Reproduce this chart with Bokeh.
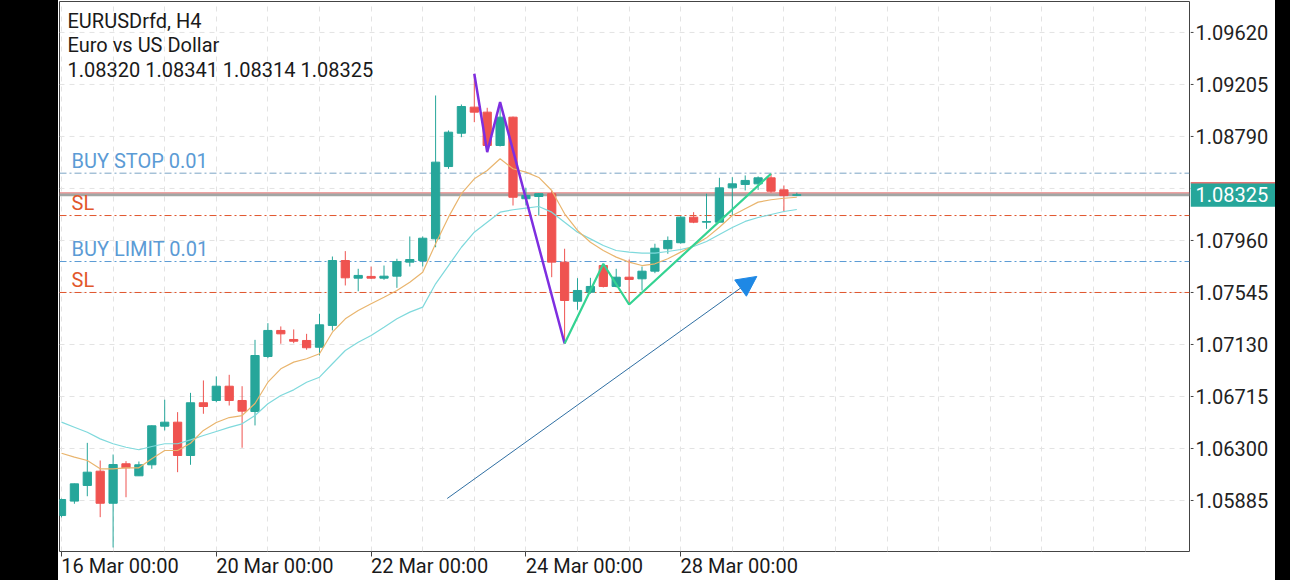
from bokeh.plotting import figure
from bokeh.models import (FixedTicker, Span, Label, Arrow, NormalHead, ColumnDataSource,
                          Range1d, Div)
from bokeh.layouts import row
from bokeh.embed import file_html
from bokeh.resources import INLINE
from bokeh.core.properties import value

# ---------------- data ----------------
symbol_text = "EURUSDrfd, H4"
description_text = "Euro vs US Dollar"
ohlc_text = "1.08320 1.08341 1.08314 1.08325"

opens = [1.05765, 1.05880, 1.06005, 1.06119, 1.05863, 1.06178, 1.06082, 1.06170, 1.06478, 1.06510,
         1.06244, 1.06665, 1.06683, 1.06797, 1.06683, 1.06595, 1.07034, 1.07242, 1.07170, 1.07162,
         1.07108, 1.07282, 1.07800, 1.07659, 1.07673, 1.07659, 1.07675, 1.07787, 1.07800, 1.07973,
         1.08550, 1.08816, 1.09024, 1.08984, 1.08718, 1.08944, 1.08293, 1.08311, 1.08333, 1.07787,
         1.07475, 1.07547, 1.07760, 1.07593, 1.07667, 1.07654, 1.07715, 1.07894, 1.07942, 1.08146,
         1.08106, 1.08106, 1.08380, 1.08407, 1.08412, 1.08460, 1.08364, 1.08320]
highs = [1.05900, 1.06020, 1.06345, 1.06204, 1.06252, 1.06199, 1.06196, 1.06484, 1.06689, 1.06590,
         1.06744, 1.06843, 1.06875, 1.06888, 1.06797, 1.07167, 1.07300, 1.07274, 1.07250, 1.07215,
         1.07375, 1.07832, 1.07875, 1.07734, 1.07752, 1.07760, 1.07814, 1.07992, 1.07992, 1.09117,
         1.08838, 1.09045, 1.09290, 1.09019, 1.09064, 1.08949, 1.08380, 1.08337, 1.08359, 1.07894,
         1.07659, 1.07662, 1.07774, 1.07734, 1.07808, 1.07752, 1.07934, 1.07992, 1.08154, 1.08186,
         1.08333, 1.08460, 1.08465, 1.08479, 1.08471, 1.08492, 1.08399, 1.08341]
lows = [1.05750, 1.05859, 1.05919, 1.05752, 1.05510, 1.05911, 1.06082, 1.06138, 1.06444, 1.06111,
        1.06170, 1.06577, 1.06669, 1.06643, 1.06306, 1.06484, 1.07021, 1.07136, 1.07140, 1.07088,
        1.07042, 1.07242, 1.07601, 1.07555, 1.07654, 1.07646, 1.07582, 1.07752, 1.07752, 1.07906,
        1.08532, 1.08784, 1.08904, 1.08665, 1.08710, 1.08239, 1.08239, 1.08159, 1.07667, 1.07138,
        1.07407, 1.07535, 1.07585, 1.07585, 1.07449, 1.07561, 1.07699, 1.07854, 1.07934, 1.08098,
        1.08053, 1.08103, 1.08159, 1.08359, 1.08364, 1.08341, 1.08186, 1.08314]
closes = [1.05893, 1.06018, 1.06111, 1.05863, 1.06172, 1.06146, 1.06170, 1.06481, 1.06510, 1.06244,
          1.06665, 1.06635, 1.06797, 1.06683, 1.06598, 1.07042, 1.07242, 1.07215, 1.07156, 1.07104,
          1.07287, 1.07800, 1.07662, 1.07681, 1.07659, 1.07675, 1.07792, 1.07808, 1.07978, 1.08585,
          1.08824, 1.09029, 1.08984, 1.08718, 1.08944, 1.08305, 1.08319, 1.08333, 1.07787, 1.07481,
          1.07561, 1.07593, 1.07593, 1.07667, 1.07649, 1.07715, 1.07898, 1.07960, 1.08146, 1.08106,
          1.08111, 1.08380, 1.08412, 1.08439, 1.08460, 1.08353, 1.08318, 1.08325]

ma_fast = [1.06262, 1.06231, 1.06204, 1.06138, 1.06138, 1.06146, 1.06146, 1.06218, 1.06284, 1.06284,
           1.06342, 1.06444, 1.06507, 1.06547, 1.06563, 1.06659, 1.06829, 1.06936, 1.06989, 1.07016,
           1.07056, 1.07228, 1.07335, 1.07401, 1.07455, 1.07507, 1.07561, 1.07627, 1.07707, 1.07934,
           1.08146, 1.08333, 1.08452, 1.08518, 1.08612, 1.08532, 1.08505, 1.08463, 1.08359, 1.08173,
           1.08040, 1.07946, 1.07880, 1.07827, 1.07787, 1.07760, 1.07774, 1.07814, 1.07867, 1.07920,
           1.07981, 1.08066, 1.08159, 1.08213, 1.08266, 1.08285, 1.08297, 1.08305]
ma_slow = [1.06510, 1.06470, 1.06430, 1.06377, 1.06338, 1.06310, 1.06290, 1.06316, 1.06338, 1.06338,
           1.06369, 1.06404, 1.06436, 1.06468, 1.06497, 1.06563, 1.06657, 1.06723, 1.06768, 1.06829,
           1.06869, 1.06976, 1.07082, 1.07148, 1.07202, 1.07268, 1.07335, 1.07388, 1.07428, 1.07614,
           1.07760, 1.07906, 1.08026, 1.08106, 1.08186, 1.08205, 1.08218, 1.08231, 1.08186, 1.08106,
           1.08026, 1.07973, 1.07920, 1.07880, 1.07867, 1.07859, 1.07859, 1.07872, 1.07888, 1.07912,
           1.07952, 1.08008, 1.08064, 1.08112, 1.08143, 1.08167, 1.08191, 1.08207]

date_ticks = [0, 12, 24, 36, 48]
date_labels = ["16 Mar 00:00", "20 Mar 00:00", "22 Mar 00:00", "24 Mar 00:00", "28 Mar 00:00"]
price_ticks = [1.05885, 1.06300, 1.06715, 1.07130, 1.07545, 1.07960, 1.08375, 1.08790, 1.09205, 1.09620]
hidden_price_tick = 1.08375

order_labels = ["BUY STOP 0.01", "SL", "BUY LIMIT 0.01", "SL"]
order_prices = [1.08497, 1.08159, 1.07792, 1.07545]
bid_price = 1.08325
ask_price = 1.08340

zigzag_purple_idx = [32, 33, 34, 39]
zigzag_purple_kind = ["high", "low", "high", "low"]
zigzag_green_idx = [39, 42, 44, 55]
zigzag_green_kind = ["low", "high", "low", "high"]

arrow_start = (29.9, 1.05901)
arrow_end = (53.9, 1.07673)

# ---------------- style / layout ----------------
X_START, X_END = -0.155, 87.44
Y_BOTTOM, Y_TOP = 1.05478, 1.09867
FRAME_W, FRAME_H = 1130, 550
PX_X = FRAME_W / (X_END - X_START)          # pixels per candle
PX_Y = (Y_TOP - Y_BOTTOM) / FRAME_H         # price per pixel
UP, DOWN = "#26a69a", "#ef5350"
FONT = "Roboto"
BLUE_TXT, RED_TXT = "#5b9bd5", "#e2572b"
order_text_colors = [BLUE_TXT, RED_TXT, BLUE_TXT, RED_TXT]
order_line_colors = ["#7aa3c4", "#e0552d", "#5b9bd5", "#e0552d"]
DATE_LABEL_HALF_PX = 58.5
RIGHT_W = 85

n = len(opens)
idx = list(range(n))
colors = [UP if c >= o else DOWN for o, c in zip(opens, closes)]
src = ColumnDataSource(dict(
    x=idx, h=highs, l=lows,
    top=[max(o, c) for o, c in zip(opens, closes)],
    bot=[min(o, c) for o, c in zip(opens, closes)],
    color=colors))

p = figure(width=FRAME_W + 2, height=580, output_backend="svg", toolbar_location=None,
           x_range=Range1d(X_START, X_END), y_range=Range1d(Y_BOTTOM, Y_TOP),
           y_axis_type=None,
           min_border_left=1, min_border_right=1, min_border_top=1, min_border_bottom=29,
           background_fill_color="white", border_fill_color="white",
           outline_line_color="#444444", outline_line_width=1)

# grids
p.xgrid.ticker = FixedTicker(ticks=list(range(0, 88, 4)))
p.xgrid.grid_line_color = "#e3e3e3"
p.xgrid.grid_line_dash = "5 5"
for yt in price_ticks:
    p.add_layout(Span(location=yt, dimension="width", line_color="#e3e3e3", line_width=1,
                      line_dash="5 5", level="underlay"))

# bottom axis: labels left-aligned at their date tick (label centre shifted), ticks as minor ticks
shift = DATE_LABEL_HALF_PX / PX_X
label_pos = [t + shift for t in date_ticks]
p.xaxis.ticker = FixedTicker(ticks=label_pos, minor_ticks=date_ticks)
p.xaxis.major_label_overrides = {lp: lab for lp, lab in zip(label_pos, date_labels)}
p.xaxis.major_label_text_font = FONT
p.xaxis.major_label_text_font_size = "20px"
p.xaxis.major_label_text_color = "#1a1a1a"
p.xaxis.major_label_standoff = -3
p.xaxis.axis_line_color = None
p.xaxis.major_tick_out = 0
p.xaxis.major_tick_in = 0
p.xaxis.major_tick_line_color = None
p.xaxis.minor_tick_out = 5
p.xaxis.minor_tick_in = 0
p.xaxis.minor_tick_line_color = "#444444"

# order lines & price lines
for price, col in zip(order_prices, order_line_colors):
    p.add_layout(Span(location=price, dimension="width", line_color=col, line_width=1,
                      line_dash="7 3 2 3", level="underlay"))
p.add_layout(Span(location=bid_price, dimension="width", line_color="#a2a6a5", line_width=3,
                  level="underlay"))
p.add_layout(Span(location=ask_price, dimension="width", line_color="#e57373", line_width=1,
                  level="underlay"))

# candles
p.segment(x0="x", y0="l", x1="x", y1="h", line_color="color", line_width=1, source=src)
p.vbar(x="x", width=0.64, top="top", bottom="bot", fill_color="color", line_color="color",
       line_width=1, source=src)

# moving averages
p.line(idx, ma_slow, line_color="#7fd9dc", line_width=1.2)
p.line(idx, ma_fast, line_color="#e9b56e", line_width=1.2)

# zigzags
def pick(i, kind):
    return highs[i] if kind == "high" else lows[i]

p.line(zigzag_purple_idx, [pick(i, k) for i, k in zip(zigzag_purple_idx, zigzag_purple_kind)],
       line_color="#7e2ee0", line_width=2.5)
p.line(zigzag_green_idx, [pick(i, k) for i, k in zip(zigzag_green_idx, zigzag_green_kind)],
       line_color="#34d392", line_width=2.2)

# arrow
p.add_layout(Arrow(end=NormalHead(size=20, fill_color="#1e88e5", line_color="#1e88e5"),
                   x_start=arrow_start[0], y_start=arrow_start[1],
                   x_end=arrow_end[0], y_end=arrow_end[1],
                   line_color="#2f6fa3", line_width=1))

# header texts (centres 20 / 44.5 / 69.5 px from the top)
for t, cy in zip([symbol_text, description_text, ohlc_text], [19, 43.5, 68.5]):
    p.add_layout(Label(x=X_START, y=Y_TOP, x_offset=8, y_offset=-cy, text=t,
                       text_font=FONT, text_font_size="20px", text_color="#1a1a1a",
                       text_align="left", text_baseline="middle"))

# order texts
for t, price, col in zip(order_labels, order_prices, order_text_colors):
    p.add_layout(Label(x=X_START, y=price, x_offset=12, y_offset=12.5, text=t,
                       text_font=FONT, text_font_size="20px", text_color=col,
                       text_align="left", text_baseline="middle"))

# ---------------- right price scale panel ----------------
pr = figure(width=RIGHT_W, height=580, output_backend="svg", toolbar_location=None,
            x_range=Range1d(0, RIGHT_W), y_range=p.y_range,
            x_axis_type=None, y_axis_type=None,
            min_border_left=0, min_border_right=0, min_border_top=1, min_border_bottom=29,
            background_fill_color="white", border_fill_color="white", outline_line_color=None)
pr.xgrid.visible = False
pr.ygrid.visible = False

shown_ticks = [t for t in price_ticks if t != hidden_price_tick]
pr.segment(x0=[0] * len(price_ticks), x1=[3] * len(price_ticks), y0=price_ticks, y1=price_ticks,
           line_color="#444444", line_width=1)
pr.text(x=[5] * len(shown_ticks), y=shown_ticks, text=[f"{t:.5f}" for t in shown_ticks],
        text_font=value(FONT), text_font_size="20px", text_color="#222222",
        text_align="left", text_baseline="middle")

# current price box
pr.quad(left=[0], right=[RIGHT_W], top=[bid_price + 12 * PX_Y], bottom=[bid_price - 12 * PX_Y],
        fill_color=UP, line_color=None)
pr.segment(x0=[0], x1=[RIGHT_W], y0=[bid_price + 12 * PX_Y], y1=[bid_price + 12 * PX_Y],
           line_color="#e57373", line_width=1.5)
pr.text(x=[5], y=[bid_price], text=[f"{bid_price:.5f}"], text_font=value(FONT),
        text_font_size="20px", text_color="white", text_align="left", text_baseline="middle")

left_bar = Div(text="", width=58, height=580, margin=0, styles={"background-color": "black"})
right_bar = Div(text="", width=15, height=580, margin=0, styles={"background-color": "black"})
layout = row(left_bar, p, pr, right_bar)

open("out.html", "w").write(file_html(layout, INLINE))
